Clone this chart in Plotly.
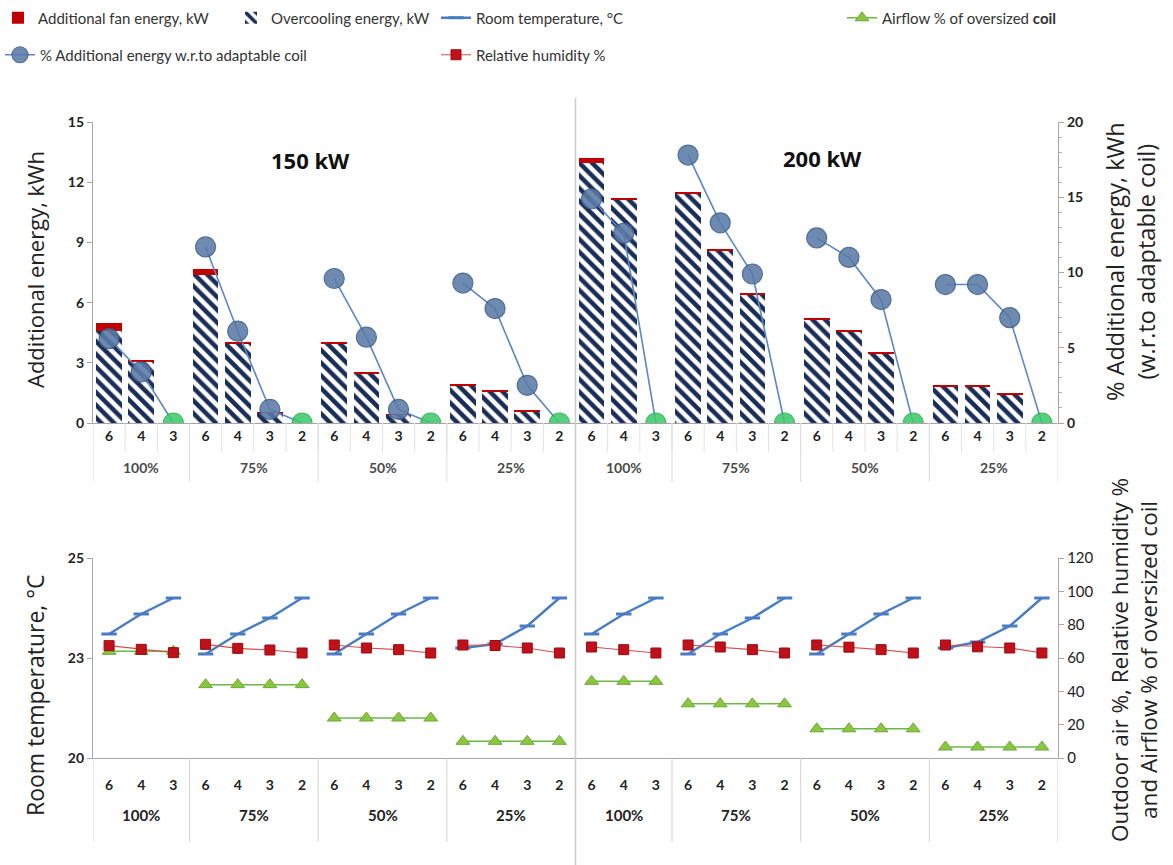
import plotly.graph_objects as go

# ---------------- data ----------------
kw_blocks = ["150 kW", "200 kW"]
load_groups = ["100%", "75%", "50%", "25%"]
coil_labels = [["6", "4", "3"], ["6", "4", "3", "2"], ["6", "4", "3", "2"], ["6", "4", "3", "2"]]

overcool_150 = [4.6, 3.05, 0, 7.4, 3.95, 0.5, 0, 3.98, 2.45, 0.4, 0, 1.85, 1.55, 0.55, 0]
fan_150 = [0.4, 0.1, 0, 0.25, 0.08, 0.03, 0, 0.05, 0.05, 0.03, 0, 0.05, 0.05, 0.05, 0]
overcool_200 = [12.95, 11.1, 0, 11.4, 8.58, 6.42, 0, 5.15, 4.56, 3.48, 0, 1.8, 1.8, 1.4, 0]
fan_200 = [0.25, 0.12, 0, 0.12, 0.1, 0.08, 0, 0.07, 0.07, 0.07, 0, 0.07, 0.07, 0.05, 0]
pct_150 = [5.6, 3.4, 0, 11.7, 6.1, 0.9, 0, 9.6, 5.7, 0.9, 0, 9.3, 7.6, 2.5, 0]
pct_200 = [14.9, 12.6, 0, 17.8, 13.3, 9.9, 0, 12.3, 11.0, 8.2, 0, 9.2, 9.2, 7.0, 0]

temp_150 = [23.1, 23.6, 24.0, 22.6, 23.1, 23.5, 24.0, 22.6, 23.1, 23.6, 24.0, 22.75, 22.85, 23.3, 24.0]
temp_200 = [23.1, 23.6, 24.0, 22.6, 23.1, 23.5, 24.0, 22.6, 23.1, 23.6, 24.0, 22.75, 22.9, 23.3, 24.0]
rh_150 = [67.4, 65.2, 63.2, 68.2, 65.8, 64.8, 63, 67.8, 66, 65, 63, 67.8, 67.5, 66, 63]
rh_200 = [66.6, 65, 63, 67.8, 66.6, 65, 63, 67.8, 66.5, 65, 63, 67.8, 66.7, 66, 63]
air_150 = [64, 64, 64, 44, 44, 44, 44, 24, 24, 24, 24, 10, 10, 10, 10]
air_200 = [46, 46, 46, 32.5, 32.5, 32.5, 32.5, 17.5, 17.5, 17.5, 17.5, 6.6, 6.6, 6.6, 6.6]

# ---------------- derived positions ----------------
group_sizes = [len(c) for c in coil_labels] * len(kw_blocks)
group_names = load_groups * len(kw_blocks)
tick_text = [lab for _ in kw_blocks for grp in coil_labels for lab in grp]
n = len(tick_text)
xs = list(range(n))
bounds = [-0.5]
for s in group_sizes:
    bounds.append(bounds[-1] + s)
group_centers = [(bounds[i] + bounds[i + 1]) / 2 for i in range(len(group_sizes))]

overcool = overcool_150 + overcool_200
fan = fan_150 + fan_200
pct = pct_150 + pct_200
temp = temp_150 + temp_200
rh = rh_150 + rh_200
air = air_150 + air_200


def segmented(vals):
    sx, sy = [], []
    i = 0
    for s in group_sizes:
        for k in range(s):
            sx.append(xs[i + k])
            sy.append(vals[i + k])
        sx.append(None)
        sy.append(None)
        i += s
    return sx, sy


# ---------------- figure ----------------
fig = go.Figure()
LEG_FONT = dict(family="Lato", size=15, color="#333333")

fig.add_trace(go.Bar(
    x=xs, y=overcool, name="Overcooling energy, kW", legend="legend2",
    marker=dict(color="white", line=dict(width=0),
                pattern=dict(shape="\\", fgcolor="#1a2d57", bgcolor="white", fgopacity=1,
                             fillmode="replace", size=9, solidity=0.5)),
    xaxis="x", yaxis="y"))
fig.add_trace(go.Bar(
    x=xs, y=fan, name="Additional fan energy, kW", legend="legend",
    marker=dict(color="#c00000", line=dict(width=0)), xaxis="x", yaxis="y"))

px_, py_ = segmented(pct)
pct_colors = ["#3ecb6c" if (v is not None and v == 0) else "#5b7aa6" for v in py_]
pct_edges = ["#2fae58" if (v is not None and v == 0) else "#3d5c88" for v in py_]
fig.add_trace(go.Scatter(
    x=px_, y=py_, mode="lines+markers", name="% Additional energy w.r.to adaptable coil",
    legend="legend5",
    line=dict(color="#5b87c5", width=1.6),
    marker=dict(symbol="circle", size=20, color=pct_colors, opacity=0.88,
                line=dict(color=pct_edges, width=1.2)),
    xaxis="x", yaxis="y2"))

tx, ty = segmented(temp)
fig.add_trace(go.Scatter(
    x=tx, y=ty, mode="lines+markers", name="Room temperature, °C", legend="legend3",
    line=dict(color="#4a7cc2", width=2.5),
    marker=dict(symbol="line-ew", size=11, line=dict(color="#4a7cc2", width=3)),
    xaxis="x2", yaxis="y3"))

ax_, ay_ = segmented(air)
fig.add_trace(go.Scatter(
    x=ax_, y=ay_, mode="lines+markers", name="Airflow % of oversized <b>coil</b>", legend="legend4",
    line=dict(color="#6bb84a", width=1.5),
    marker=dict(symbol="triangle-up", size=12, color="#8cc63f", line=dict(color="#6aa83a", width=1)),
    xaxis="x2", yaxis="y4"))

rx, ry = segmented(rh)
fig.add_trace(go.Scatter(
    x=rx, y=ry, mode="lines+markers", name="Relative humidity %", legend="legend6",
    line=dict(color="#d0504d", width=1.2),
    marker=dict(symbol="square", size=10, color="#c0101a", line=dict(color="#9a0a10", width=1)),
    xaxis="x2", yaxis="y4"))

# ---------------- layout ----------------
W, H = 1173, 865
L, R, T, B = 93, 115, 122, 107
pw, ph = W - L - R, H - T - B


def py2paper(py):
    return (H - B - py) / ph


def px2paper(px):
    return (px - L) / pw


top_dom = [py2paper(423), 1.0]
bot_dom = [0.0, py2paper(558)]

tickfont = dict(family="Lato", size=14, color="#222222", weight="bold")
axis_common = dict(showgrid=False, zeroline=False, showline=True, linecolor="#a6a6a6", linewidth=1.3)

fig.update_layout(
    width=W, height=H, margin=dict(l=L, r=R, t=T, b=B, autoexpand=False),
    paper_bgcolor="white", plot_bgcolor="white",
    barmode="stack", bargap=0.2,
    xaxis=dict(domain=[0, 1], anchor="y", range=[-0.5, n - 0.5], tickvals=xs, ticktext=tick_text,
               ticks="", tickfont=tickfont, **axis_common),
    yaxis=dict(domain=top_dom, range=[0, 15], dtick=3, ticks="outside", ticklen=5, tickcolor="#a6a6a6",
               tickfont=tickfont, **axis_common),
    yaxis2=dict(overlaying="y", side="right", anchor="x", range=[0, 20], dtick=5, ticks="outside", ticklen=5,
                tickcolor="#a6a6a6", minor=dict(dtick=1, ticks="outside", ticklen=3, tickcolor="#b0b0b0"),
                tickfont=tickfont, **axis_common),
    xaxis2=dict(domain=[0, 1], anchor="y3", range=[-0.5, n - 0.5], tickvals=xs, ticktext=tick_text,
                ticks="", ticklabelstandoff=14, tickfont=tickfont, **axis_common),
    yaxis3=dict(domain=bot_dom, anchor="x2", range=[20, 25], tickvals=[20, 22.5, 25], ticktext=["20", "23", "25"],
                ticks="outside", ticklen=5, tickcolor="#a6a6a6", tickfont=tickfont, **axis_common),
    yaxis4=dict(overlaying="y3", side="right", anchor="x2", range=[0, 120], dtick=20, ticks="outside", ticklen=5,
                tickcolor="#a6a6a6", tickfont=dict(family="Lato", size=15, color="#222222"), **axis_common),
    showlegend=True,
)

# legend text start positions (px) and row centres
leg_pos = {
    "legend": (40, 18), "legend2": (273, 18), "legend3": (478, 18), "legend4": (884, 18),
    "legend5": (42, 55), "legend6": (478, 55),
}
for key, (lx, ly) in leg_pos.items():
    fig.update_layout({key: dict(x=px2paper(lx - 42), y=py2paper(ly), xanchor="left", yanchor="middle",
                                 bgcolor="rgba(0,0,0,0)", font=LEG_FONT, itemwidth=30)})

shapes = []
# category dividers (top)
for b in [xs[i] + 0.5 for i in range(n - 1)]:
    shapes.append(dict(type="line", xref="x", yref="paper", x0=b, x1=b,
                       y0=top_dom[0], y1=py2paper(452), line=dict(color="#e2e2e2", width=1)))
# group dividers
for b in bounds:
    shapes.append(dict(type="line", xref="x", yref="paper", x0=b, x1=b,
                       y0=top_dom[0], y1=py2paper(482), line=dict(color="#dddddd", width=1)))
    shapes.append(dict(type="line", xref="x2", yref="paper", x0=b, x1=b,
                       y0=0, y1=py2paper(842), line=dict(color="#d4d4d4", width=1)))
# block separator
mid = bounds[len(load_groups)]
shapes.append(dict(type="line", xref="x", yref="paper", x0=mid, x1=mid,
                   y0=py2paper(98), y1=py2paper(865), line=dict(color="#cccccc", width=1.5)))
fig.update_layout(shapes=shapes)

ann = []
for c, g in zip(group_centers, group_names):
    ann.append(dict(x=c, y=py2paper(467), xref="x", yref="paper", text=g, showarrow=False,
                    font=dict(family="Lato", size=14, color="#4a4a4a", weight="bold")))
    ann.append(dict(x=c, y=py2paper(826), xref="x2", yref="paper", text=g, showarrow=False,
                    font=dict(family="Lato", size=15, color="#222222", weight="bold")))
ann.append(dict(x=px2paper(310), y=py2paper(160), xref="paper", yref="paper", text="<b>" + kw_blocks[0] + "</b>",
                showarrow=False, xanchor="center", yanchor="middle",
                font=dict(family="Open Sans", size=22, color="#111111")))
ann.append(dict(x=px2paper(822), y=py2paper(158), xref="paper", yref="paper", text="<b>" + kw_blocks[1] + "</b>",
                showarrow=False, xanchor="center", yanchor="middle",
                font=dict(family="Open Sans", size=22, color="#111111")))


def rot(size):
    return dict(textangle=-90, showarrow=False, xanchor="center", yanchor="middle", xref="paper", yref="paper",
                font=dict(family="Open Sans", size=size, color="#222222"))


ann.append(dict(x=px2paper(35), y=py2paper(270), text="Additional energy, kWh", **rot(22)))
ann.append(dict(x=px2paper(1130), y=py2paper(262),
                text="% Additional energy, kWh<br>(w.r.to adaptable coil)", **rot(23.5)))
ann.append(dict(x=px2paper(35), y=py2paper(695), text="Room temperature, °C", **rot(23)))
ann.append(dict(x=px2paper(1134), y=py2paper(660),
                text="Outdoor air %, Relative humidity %<br>and Airflow % of oversized coil", **rot(22.5)))
fig.update_layout(annotations=ann)

fig.write_html("out.html")
